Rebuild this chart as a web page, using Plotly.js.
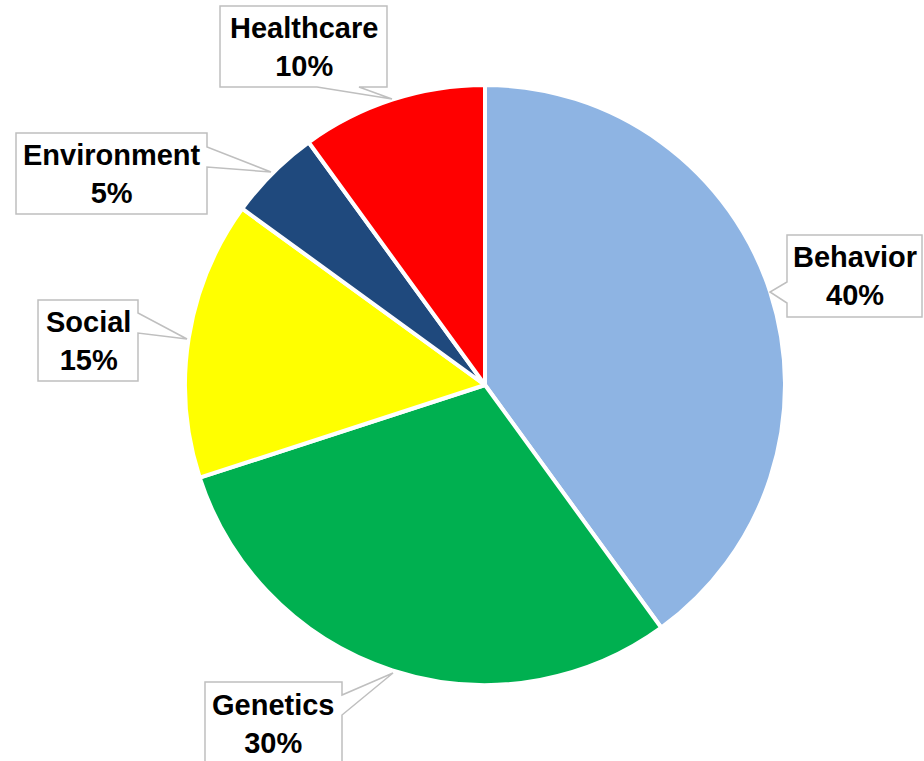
<!DOCTYPE html>
<html><head><meta charset="utf-8">
<script src="https://cdn.plot.ly/plotly-3.0.1.min.js"></script>
<style>html,body{margin:0;padding:0;background:#fff;}#chart{width:924px;height:761px;}</style>
</head><body><div id="chart"></div>
<script>
const labels = ['Behavior', 'Genetics', 'Social', 'Environment', 'Healthcare'];
const values = [40, 30, 15, 5, 10];
const colors = ['#8EB4E3', '#00B050', '#FFFF00', '#1F497D', '#FF0000'];

const W = 924, H = 761;
const px = x => x / W;
const py = y => 1 - y / H;

// callout boxes in pixels: [left, top, right, bottom], pointer base (two points) and tip
const callouts = {
  'Healthcare':  {box:[220, 6, 387, 87],   side:'bottom', base:[317, 359], tip:[392, 99]},
  'Environment': {box:[16, 133, 207, 214], side:'right',  base:[147, 167], tip:[271, 172]},
  'Social':      {box:[38, 300, 138, 381], side:'right',  base:[313, 333], tip:[187, 339]},
  'Behavior':    {box:[787, 235, 922, 317], side:'left',  base:[282, 303], tip:[770, 292]},
  'Genetics':    {box:[205, 682, 342, 790], side:'right', base:[695, 715], tip:[393, 673]}
};

function calloutPath(c) {
  const [l, t, r, b] = c.box;
  let pts;
  if (c.side === 'bottom') {
    pts = [[l,t],[r,t],[r,b],[c.base[1],b],c.tip,[c.base[0],b],[l,b]];
  } else if (c.side === 'right') {
    pts = [[l,t],[r,t],[r,c.base[0]],c.tip,[r,c.base[1]],[r,b],[l,b]];
  } else {
    pts = [[l,t],[r,t],[r,b],[l,b],[l,c.base[1]],c.tip,[l,c.base[0]]];
  }
  return 'M ' + pts.map(p => px(p[0]).toFixed(5) + ' ' + py(p[1]).toFixed(5)).join(' L ') + ' Z';
}

const shapes = [], annotations = [];
labels.forEach((lab, i) => {
  const c = callouts[lab];
  shapes.push({type:'path', xref:'paper', yref:'paper', path: calloutPath(c),
    fillcolor:'#FFFFFF', line:{color:'#BFBFBF', width:1.5}, layer:'above'});
  annotations.push({xref:'paper', yref:'paper', showarrow:false,
    x: px((c.box[0] + c.box[2]) / 2), y: py(lab === 'Genetics' ? 724 : (c.box[1] + c.box[3]) / 2),
    xanchor:'center', yanchor:'middle',
    text: '<b>' + lab + '<br>' + values[i] + '%</b>',
    font:{family:'Liberation Sans, Arial, sans-serif', size:29, color:'#000'}});
});

const data = [{
  type:'pie', labels: labels, values: values, sort:false, direction:'clockwise', rotation:0,
  marker:{colors: colors, line:{color:'#FFFFFF', width:4}},
  textinfo:'none', hoverinfo:'label+percent', showlegend:false,
  domain:{x:[px(185), px(785)], y:[py(685), py(85)]}
}];

Plotly.newPlot('chart', data, {
  width: W, height: H, margin:{l:0, r:0, t:0, b:0},
  paper_bgcolor:'#FFFFFF', showlegend:false,
  shapes: shapes, annotations: annotations
}, {displayModeBar:false, staticPlot:true});
</script></body></html>
